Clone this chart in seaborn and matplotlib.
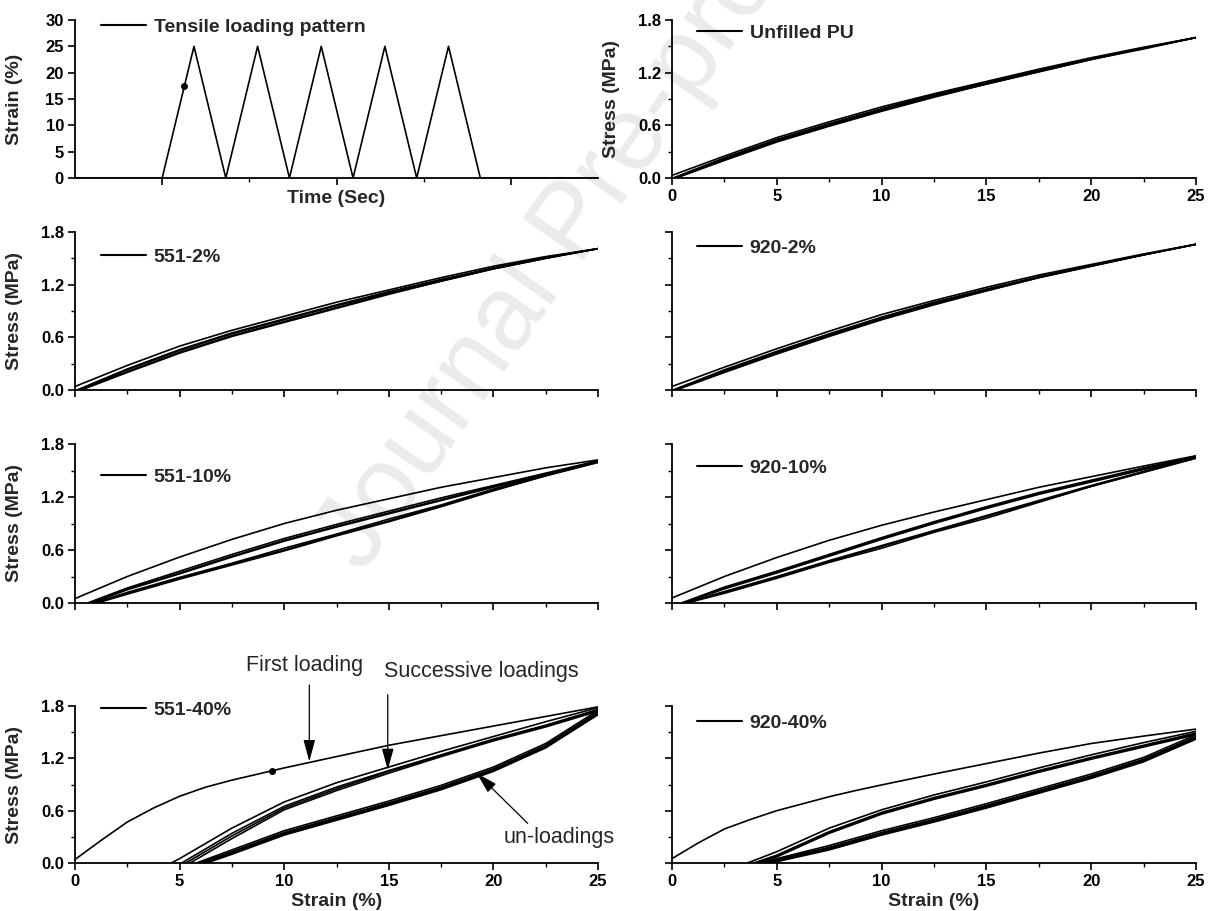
import matplotlib
matplotlib.use("Agg")
import matplotlib.pyplot as plt
from matplotlib.lines import Line2D
from matplotlib.ticker import MultipleLocator, FixedLocator, FormatStrFormatter, NullFormatter
import pandas as pd
import seaborn as sns

sns.set_style("ticks")
plt.rcParams["font.family"] = ["Liberation Sans", "DejaVu Sans"]
plt.rcParams["font.weight"] = "bold"
plt.rcParams["axes.labelweight"] = "bold"

# ------------------------------------------------------------------ data
pattern_time = [0, 100, 136.5, 173, 209.5, 246, 282.5, 319, 355.5, 392, 428.5, 465, 600]
pattern_strain = [0, 0, 25, 0, 25, 0, 25, 0, 25, 0, 25, 0, 0]
pattern_dot_time = [125.5]
pattern_dot_strain = [17.4]

strain_grid = [2.5, 5, 7.5, 10, 12.5, 15, 17.5, 20, 22.5, 25]
fine_grid = [0, 1.25, 2.5, 3.75, 5, 6.25, 7.5, 8.75, 10, 12.5, 15, 17.5, 20, 22.5, 25]

# Unfilled PU
pu_first = [0.03, 0.25, 0.46, 0.64, 0.81, 0.96, 1.10, 1.24, 1.37, 1.49, 1.60]
pu_starts = [0.05, 0.10, 0.15, 0.20]
pu_cycles = [
    [0.23, 0.44, 0.62, 0.79, 0.95, 1.09, 1.23, 1.36, 1.48, 1.60],
    [0.22, 0.43, 0.61, 0.78, 0.94, 1.08, 1.22, 1.36, 1.48, 1.60],
    [0.21, 0.42, 0.60, 0.77, 0.93, 1.07, 1.21, 1.35, 1.48, 1.60],
    [0.20, 0.41, 0.59, 0.76, 0.92, 1.07, 1.21, 1.35, 1.47, 1.60],
]

# 551-2%
s2_first = [0.04, 0.28, 0.50, 0.68, 0.84, 1.00, 1.14, 1.28, 1.41, 1.52, 1.61]
s2_starts = [0.10, 0.15, 0.20, 0.30]
s2_cycles = [
    [0.24, 0.46, 0.65, 0.81, 0.97, 1.12, 1.26, 1.39, 1.51, 1.61],
    [0.23, 0.45, 0.64, 0.80, 0.96, 1.11, 1.25, 1.39, 1.51, 1.61],
    [0.21, 0.43, 0.62, 0.78, 0.94, 1.10, 1.24, 1.38, 1.50, 1.61],
    [0.20, 0.42, 0.61, 0.77, 0.93, 1.09, 1.24, 1.38, 1.50, 1.61],
]

# 920-2%
n2_first = [0.04, 0.26, 0.47, 0.67, 0.86, 1.02, 1.17, 1.31, 1.43, 1.55, 1.66]
n2_starts = [0.05, 0.10, 0.15, 0.20]
n2_cycles = [
    [0.23, 0.44, 0.64, 0.83, 1.00, 1.15, 1.29, 1.42, 1.54, 1.66],
    [0.22, 0.43, 0.63, 0.82, 0.99, 1.14, 1.29, 1.42, 1.54, 1.66],
    [0.21, 0.42, 0.62, 0.81, 0.98, 1.13, 1.28, 1.41, 1.54, 1.66],
    [0.20, 0.41, 0.61, 0.80, 0.97, 1.13, 1.28, 1.41, 1.54, 1.66],
]

# 551-10%
s10_first = [0.05, 0.30, 0.52, 0.72, 0.90, 1.05, 1.18, 1.31, 1.42, 1.53, 1.62]
s10_starts = [0.60, 0.70, 0.80, 0.90, 1.00, 1.05]
s10_cycles = [
    [0.17, 0.36, 0.55, 0.73, 0.89, 1.04, 1.19, 1.33, 1.47, 1.61],
    [0.16, 0.34, 0.53, 0.71, 0.87, 1.02, 1.17, 1.32, 1.46, 1.60],
    [0.15, 0.33, 0.52, 0.70, 0.86, 1.01, 1.16, 1.31, 1.45, 1.60],
    [0.12, 0.29, 0.45, 0.62, 0.78, 0.95, 1.11, 1.29, 1.45, 1.61],
    [0.11, 0.28, 0.44, 0.60, 0.77, 0.93, 1.10, 1.28, 1.44, 1.60],
    [0.10, 0.27, 0.43, 0.59, 0.76, 0.92, 1.09, 1.27, 1.44, 1.59],
]

# 920-10%
n10_first = [0.057, 0.30, 0.515, 0.71, 0.88, 1.03, 1.17, 1.31, 1.43, 1.55, 1.667]
n10_starts = [0.45, 0.50, 0.55, 0.60, 0.65, 0.70]
n10_cycles = [
    [0.18, 0.36, 0.55, 0.74, 0.92, 1.09, 1.25, 1.39, 1.53, 1.66],
    [0.17, 0.35, 0.54, 0.73, 0.91, 1.08, 1.24, 1.38, 1.52, 1.65],
    [0.16, 0.34, 0.53, 0.72, 0.90, 1.07, 1.23, 1.37, 1.51, 1.65],
    [0.13, 0.30, 0.48, 0.65, 0.82, 0.99, 1.16, 1.33, 1.49, 1.65],
    [0.12, 0.29, 0.47, 0.64, 0.81, 0.98, 1.15, 1.32, 1.48, 1.64],
    [0.11, 0.28, 0.46, 0.62, 0.80, 0.96, 1.14, 1.32, 1.48, 1.64],
]

# 551-40%
s40_first = [0.04, 0.26, 0.47, 0.63, 0.765, 0.87, 0.95, 1.02, 1.09, 1.22, 1.35, 1.46, 1.57, 1.68, 1.79]
s40_starts = [4.6, 5.1, 5.3, 5.5, 5.8, 5.95, 6.05, 6.15, 6.3]
s40_cycles = [
    [0.05, 0.40, 0.70, 0.92, 1.10, 1.28, 1.45, 1.62, 1.78],
    [0.34, 0.65, 0.87, 1.06, 1.24, 1.42, 1.58, 1.76],
    [0.31, 0.63, 0.85, 1.05, 1.23, 1.41, 1.57, 1.75],
    [0.28, 0.61, 0.83, 1.03, 1.22, 1.40, 1.56, 1.74],
    [0.15, 0.37, 0.54, 0.71, 0.89, 1.10, 1.37, 1.75],
    [0.13, 0.35, 0.52, 0.69, 0.87, 1.08, 1.35, 1.73],
    [0.12, 0.34, 0.51, 0.68, 0.86, 1.07, 1.34, 1.72],
    [0.11, 0.33, 0.50, 0.67, 0.85, 1.06, 1.33, 1.71],
    [0.10, 0.32, 0.49, 0.66, 0.84, 1.05, 1.32, 1.70],
]
s40_dot_strain = [9.44]
s40_dot_stress = [1.056]

# 920-40%
n40_first = [0.05, 0.23, 0.39, 0.50, 0.60, 0.68, 0.76, 0.83, 0.895, 1.02, 1.14, 1.26, 1.37, 1.455, 1.535]
n40_starts = [3.6, 3.9, 4.05, 4.2, 4.3, 4.45, 4.55, 4.65, 4.8]
n40_cycles = [
    [0.13, 0.40, 0.61, 0.78, 0.93, 1.09, 1.24, 1.38, 1.51],
    [0.09, 0.36, 0.58, 0.75, 0.90, 1.06, 1.21, 1.35, 1.49],
    [0.08, 0.35, 0.57, 0.74, 0.89, 1.05, 1.20, 1.34, 1.48],
    [0.07, 0.34, 0.56, 0.73, 0.88, 1.04, 1.19, 1.33, 1.47],
    [0.05, 0.20, 0.37, 0.52, 0.68, 0.85, 1.02, 1.21, 1.47],
    [0.04, 0.18, 0.35, 0.50, 0.66, 0.83, 1.00, 1.19, 1.45],
    [0.03, 0.17, 0.34, 0.49, 0.65, 0.82, 0.99, 1.18, 1.44],
    [0.025, 0.16, 0.33, 0.48, 0.64, 0.81, 0.98, 1.17, 1.43],
    [0.015, 0.15, 0.32, 0.47, 0.63, 0.80, 0.97, 1.16, 1.42],
]

labels = ["Tensile loading pattern", "Unfilled PU", "551-2%", "920-2%",
          "551-10%", "920-10%", "551-40%", "920-40%"]

# ------------------------------------------------------------------ figure
W, H = 1212, 911
fig = plt.figure(figsize=(W / 100, H / 100), dpi=100)

fig.text(300 / W, 1 - 565 / H, "Journal Pre-proof", rotation=55, fontsize=76,
         color="#ebebeb", fontweight="normal", ha="left", va="baseline",
         zorder=-5, family=["Liberation Sans", "DejaVu Sans"])


def add_ax(l, t, r, b):
    ax = fig.add_axes([l / W, 1 - b / H, (r - l) / W, (b - t) / H])
    ax.set_facecolor("none")
    return ax


LEFT = (75, 598)
RIGHT = (672, 1196)
ROWS = [(20, 178), (232, 390), (444, 603), (706, 863)]


def style_axes(ax):
    sns.despine(ax=ax)
    for s in ("left", "bottom"):
        ax.spines[s].set_linewidth(1.3)
        ax.spines[s].set_color("black")
    ax.tick_params(which="major", direction="out", length=5, width=1.2,
                   labelsize=12, pad=3, colors="black")
    ax.tick_params(which="minor", direction="out", length=3, width=1.0, colors="black")


def add_legend(ax, text, xf, yf):
    h = Line2D([0], [0], color="black", lw=1.5)
    ax.legend([h], [text], loc="center left", bbox_to_anchor=(xf, yf),
              frameon=False, prop={"weight": "bold", "size": 14},
              handlelength=2.3, handletextpad=0.4, borderpad=0, borderaxespad=0)


def curves_frame(first_x, first_y, starts, cycles):
    rows = [(x, y, "first") for x, y in zip(first_x, first_y)]
    for i, (x0, vals) in enumerate(zip(starts, cycles)):
        xs = [x0] + [g for g in strain_grid if g > x0]
        ys = [0.0] + list(vals)
        rows += [(x, y, f"c{i}") for x, y in zip(xs, ys)]
    return pd.DataFrame(rows, columns=["strain", "stress", "curve"])


def stress_panel(ax, df, show_xlab, show_ylab, show_xlabel_text):
    sns.lineplot(data=df, x="strain", y="stress", units="curve", estimator=None,
                 sort=False, color="black", lw=1.2, ax=ax, legend=False)
    ax.set_xlim(0, 25)
    ax.set_ylim(0, 1.8)
    ax.xaxis.set_major_locator(MultipleLocator(5))
    ax.xaxis.set_minor_locator(MultipleLocator(2.5))
    ax.yaxis.set_major_locator(MultipleLocator(0.6))
    ax.yaxis.set_minor_locator(MultipleLocator(0.3))
    ax.yaxis.set_major_formatter(FormatStrFormatter("%.1f"))
    ax.set_xlabel("")
    ax.set_ylabel("")
    style_axes(ax)
    if not show_xlab:
        ax.xaxis.set_major_formatter(NullFormatter())
    if show_ylab:
        ax.set_ylabel("Stress (MPa)", fontsize=14)
        ax.yaxis.set_label_coords(-0.1, 0.5)
    else:
        ax.yaxis.set_major_formatter(NullFormatter())
    if show_xlabel_text:
        ax.set_xlabel("Strain (%)", fontsize=14)
        ax.xaxis.set_label_coords(0.5, -0.19)


# ---- panel 1: loading pattern
ax1 = add_ax(LEFT[0], ROWS[0][0], LEFT[1], ROWS[0][1])
pat = pd.DataFrame({"time": pattern_time, "strain": pattern_strain})
sns.lineplot(data=pat, x="time", y="strain", sort=False, estimator=None,
             color="black", lw=1.2, ax=ax1)
ax1.plot(pattern_dot_time, pattern_dot_strain, "o", color="black", ms=4)
ax1.set_xlim(0, 600)
ax1.set_ylim(0, 30)
ax1.xaxis.set_major_locator(FixedLocator([100, 300, 500]))
ax1.xaxis.set_minor_locator(FixedLocator([200, 400]))
ax1.xaxis.set_major_formatter(NullFormatter())
ax1.yaxis.set_major_locator(MultipleLocator(5))
style_axes(ax1)
ax1.set_xlabel("Time (Sec)", fontsize=14)
ax1.xaxis.set_label_coords(0.5, -0.076)
ax1.set_ylabel("Strain (%)", fontsize=14)
ax1.yaxis.set_label_coords(-0.1, 0.5)
add_legend(ax1, labels[0], 0.05, 0.956)

# ---- stress panels
panels = [
    (RIGHT, 0, [0] + strain_grid, pu_first, pu_starts, pu_cycles, labels[1], True, True, False, 0.048, 0.918),
    (LEFT, 1, [0] + strain_grid, s2_first, s2_starts, s2_cycles, labels[2], False, True, False, 0.05, 0.842),
    (RIGHT, 1, [0] + strain_grid, n2_first, n2_starts, n2_cycles, labels[3], False, False, False, 0.048, 0.899),
    (LEFT, 2, [0] + strain_grid, s10_first, s10_starts, s10_cycles, labels[4], False, True, False, 0.05, 0.792),
    (RIGHT, 2, [0] + strain_grid, n10_first, n10_starts, n10_cycles, labels[5], False, False, False, 0.048, 0.849),
    (LEFT, 3, fine_grid, s40_first, s40_starts, s40_cycles, labels[6], True, True, True, 0.05, 0.975),
    (RIGHT, 3, fine_grid, n40_first, n40_starts, n40_cycles, labels[7], True, False, True, 0.048, 0.892),
]

axes = {}
for col, r, fx, fy, st, cy, lab, sxl, syl, sxt, lx, ly in panels:
    ax = add_ax(col[0], ROWS[r][0], col[1], ROWS[r][1])
    df = curves_frame(fx, fy, st, cy)
    stress_panel(ax, df, sxl, syl, sxt)
    add_legend(ax, lab, lx, ly)
    axes[lab] = ax

# ---- annotations on 551-40%
ax7 = axes["551-40%"]
ax7.plot(s40_dot_strain, s40_dot_stress, "o", color="black", ms=4)
arrow = dict(arrowstyle="-|>,head_length=1.1,head_width=0.3", color="black",
             lw=0.9, mutation_scale=12, shrinkA=0, shrinkB=0)
ax7.annotate("", xy=(11.2, 1.165), xytext=(11.2, 2.04), arrowprops=arrow,
             annotation_clip=False)
ax7.annotate("", xy=(14.95, 1.066), xytext=(14.95, 1.93), arrowprops=arrow,
             annotation_clip=False)
ax7.annotate("", xy=(19.2, 1.03), xytext=(21.64, 0.455), arrowprops=arrow,
             annotation_clip=False)
ax7.text(10.95, 2.27, "First loading", ha="center", va="center", fontsize=15.5,
         fontweight="normal", clip_on=False)
ax7.text(19.4, 2.19, "Successive loadings", ha="center", va="center", fontsize=15.5,
         fontweight="normal", clip_on=False)
ax7.text(20.5, 0.287, "un-loadings", ha="left", va="center", fontsize=15.5,
         fontweight="normal", clip_on=False)

fig.savefig("out.png", dpi=100)
